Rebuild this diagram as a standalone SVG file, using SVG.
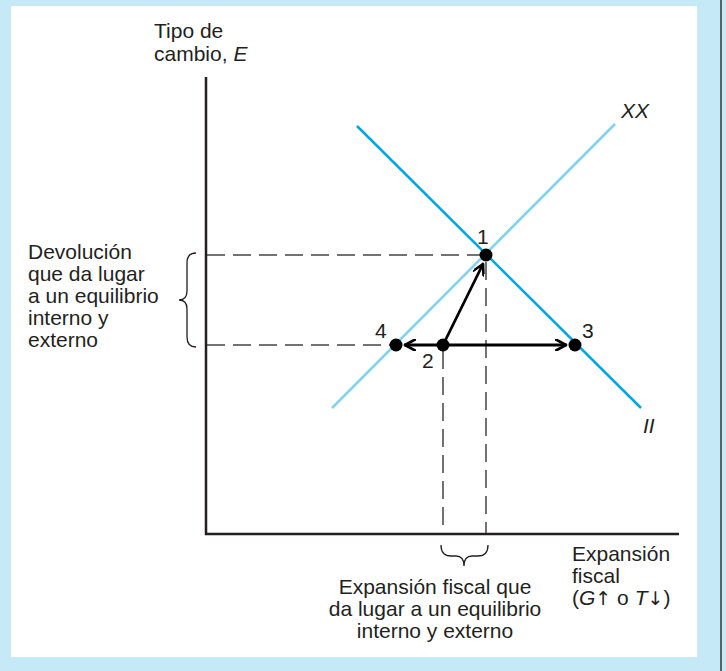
<svg xmlns="http://www.w3.org/2000/svg" width="726" height="671" viewBox="0 0 726 671">
<defs>
<style>
text{font-family:"Liberation Sans",Arial,sans-serif;font-size:21px;fill:#231f20}
.it{font-style:italic}
.ar{font-family:"DejaVu Sans",sans-serif;font-size:19px}
.dash{stroke:#444;stroke-width:1.5;stroke-dasharray:18 8;fill:none}
.axis{stroke:#231f20;stroke-width:2.5;fill:none}
.arr{stroke:#000;stroke-width:2.8;fill:none;stroke-linecap:round;stroke-linejoin:round}
.brace{stroke:#231f20;stroke-width:1.3;fill:none}
.dot{fill:#000}
</style>
<marker id="chev" viewBox="0 0 12 12" refX="11" refY="6" markerWidth="12" markerHeight="12" markerUnits="userSpaceOnUse" orient="auto">
<path d="M1,0.5 L11,6 L1,11.5" fill="none" stroke="#000" stroke-width="2.6" stroke-linecap="round" stroke-linejoin="round"/>
</marker>
</defs>
<rect x="0" y="0" width="726" height="671" fill="#c6e9f8"/>
<rect x="11" y="6" width="686" height="651" fill="#fff"/>
<line x1="721" y1="0" x2="721" y2="671" stroke="#333" stroke-width="1.5"/>

<g id="axes">
<polyline class="axis" points="206,77 206,534 679,534"/>
<text x="154" y="38">Tipo de</text>
<text x="154" y="61">cambio, <tspan class="it">E</tspan></text>
<text x="572" y="561">Expansión</text>
<text x="572" y="583">fiscal</text>
<text x="572" y="605">(<tspan class="it">G</tspan><tspan class="ar">↑</tspan> o <tspan class="it">T</tspan><tspan class="ar">↓</tspan>)</text>
</g>

<g id="curve-II">
<line x1="357" y1="126" x2="641" y2="408" stroke="#00a6e6" stroke-width="2.5"/>
<text class="it" x="643" y="433">II</text>
</g>
<g id="curve-XX">
<line x1="332" y1="408" x2="615" y2="124" stroke="#80d2f2" stroke-width="2.5"/>
<text class="it" x="621" y="118">XX</text>
</g>

<g id="connectors">
<line class="dash" x1="207" y1="255" x2="480" y2="255"/>
<line class="dash" x1="207" y1="345" x2="390" y2="345"/>
<line class="dash" x1="486" y1="262" x2="486" y2="533"/>
<line class="dash" x1="443" y1="351" x2="443" y2="533"/>
<line class="arr" x1="443" y1="345" x2="483" y2="264" marker-end="url(#chev)"/>
<line class="arr" x1="443" y1="345" x2="566" y2="345" marker-end="url(#chev)"/>
<line class="arr" x1="443" y1="345" x2="405" y2="345" marker-end="url(#chev)"/>
</g>

<g id="point-1"><circle class="dot" cx="486" cy="255" r="6.5"/><text x="477" y="244">1</text></g>
<g id="point-2"><circle class="dot" cx="443" cy="345" r="6.5"/><text x="422" y="368">2</text></g>
<g id="point-3"><circle class="dot" cx="575" cy="345" r="6.5"/><text x="582" y="338">3</text></g>
<g id="point-4"><circle class="dot" cx="396" cy="345" r="6.5"/><text x="375" y="338">4</text></g>

<g id="label-devolucion">
<path class="brace" d="M196,253 Q187,253 187,263 L187,291 Q187,300 179,300 Q187,300 187,309 L187,337 Q187,347 196,347"/>
<text x="28" y="259">Devolución</text>
<text x="28" y="281">que da lugar</text>
<text x="28" y="303">a un equilibrio</text>
<text x="28" y="325">interno y</text>
<text x="28" y="347">externo</text>
</g>

<g id="label-expansion">
<path class="brace" d="M441,545 Q441,556 451,556 L456,556 Q464,556 464,566 Q464,556 472,556 L478,556 Q488,556 488,545"/>
<text x="435" y="594" text-anchor="middle">Expansión fiscal que</text>
<text x="435" y="616" text-anchor="middle">da lugar a un equilibrio</text>
<text x="435" y="638" text-anchor="middle">interno y externo</text>
</g>
</svg>
